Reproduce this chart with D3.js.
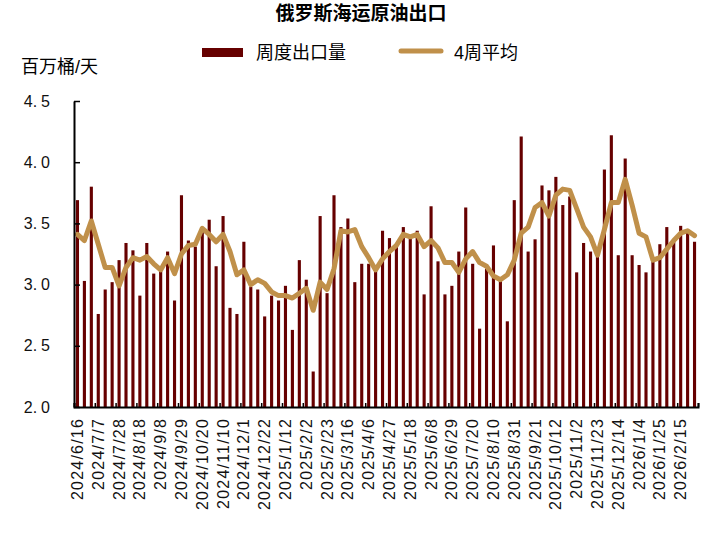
<!DOCTYPE html>
<html>
<head>
<meta charset="utf-8">
<script src="https://cdn.jsdelivr.net/npm/d3@7"></script>
<style>
  html, body { margin: 0; padding: 0; background: #fff; }
  svg { display: block; font-family: "Liberation Sans", Arial, "Noto Sans CJK SC", sans-serif; }
</style>
</head>
<body>
<svg id="chart" width="720" height="536"></svg>
<script>
const categories = [
  "2024/6/16","2024/6/23","2024/6/30","2024/7/7","2024/7/14","2024/7/21","2024/7/28","2024/8/4","2024/8/11","2024/8/18",
  "2024/8/25","2024/9/1","2024/9/8","2024/9/15","2024/9/22","2024/9/29","2024/10/6","2024/10/13","2024/10/20","2024/10/27",
  "2024/11/3","2024/11/10","2024/11/17","2024/11/24","2024/12/1","2024/12/8","2024/12/15","2024/12/22","2024/12/29",
  "2025/1/5","2025/1/12","2025/1/19","2025/1/26","2025/2/2","2025/2/9","2025/2/16","2025/2/23","2025/3/2","2025/3/9",
  "2025/3/16","2025/3/23","2025/3/30","2025/4/6","2025/4/13","2025/4/20","2025/4/27","2025/5/4","2025/5/11","2025/5/18",
  "2025/5/25","2025/6/1","2025/6/8","2025/6/15","2025/6/22","2025/6/29","2025/7/6","2025/7/13","2025/7/20","2025/7/27",
  "2025/8/3","2025/8/10","2025/8/17","2025/8/24","2025/8/31","2025/9/7","2025/9/14","2025/9/21","2025/9/28","2025/10/5",
  "2025/10/12","2025/10/19","2025/10/26","2025/11/2","2025/11/9","2025/11/16","2025/11/23","2025/11/30","2025/12/7","2025/12/14",
  "2025/12/21","2025/12/28","2026/1/4","2026/1/11","2026/1/18","2026/1/25","2026/2/1","2026/2/8","2026/2/15","2026/2/22","2026/3/1"
];

const weeklyExports = [
  3.69,3.03,3.80,2.76,2.96,3.02,3.20,3.34,3.28,2.91,
  3.34,3.09,3.11,3.27,2.87,3.73,3.36,3.31,3.46,3.53,
  3.15,3.56,2.81,2.76,3.35,2.98,2.96,2.74,2.91,2.87,
  2.99,2.63,3.20,3.04,2.29,3.56,2.93,3.73,3.47,3.54,
  3.02,3.17,3.17,3.12,3.44,3.38,3.31,3.47,3.39,3.44,
  2.92,3.64,3.19,2.92,2.99,3.27,3.63,3.17,2.64,3.13,
  3.32,3.04,2.70,3.69,4.21,3.27,3.37,3.81,3.77,3.88,
  3.65,3.72,3.10,3.34,3.27,3.23,3.94,4.22,3.24,4.03,
  3.24,3.16,3.10,3.22,3.33,3.47,3.37,3.48,3.44,3.35
];

const avg4w = [
  3.41,3.36,3.52,3.33,3.14,3.14,2.99,3.14,3.22,3.20,
  3.23,3.17,3.12,3.22,3.09,3.25,3.32,3.33,3.46,3.41,
  3.35,3.41,3.27,3.08,3.12,3.00,3.04,3.01,2.94,2.91,
  2.91,2.89,2.93,2.97,2.79,3.02,2.96,3.13,3.44,3.43,
  3.45,3.31,3.22,3.12,3.21,3.27,3.32,3.41,3.39,3.41,
  3.31,3.36,3.30,3.18,3.18,3.10,3.21,3.27,3.18,3.15,
  3.07,3.04,3.08,3.20,3.42,3.47,3.63,3.67,3.56,3.73,
  3.78,3.77,3.62,3.47,3.39,3.24,3.45,3.67,3.67,3.86,
  3.65,3.42,3.39,3.20,3.22,3.29,3.36,3.42,3.44,3.40
];

const tickLabels = [
  "2024/6/16","2024/7/7","2024/7/28","2024/8/18","2024/9/8","2024/9/29","2024/10/20","2024/11/10","2024/12/1","2024/12/22",
  "2025/1/12","2025/2/2","2025/2/23","2025/3/16","2025/4/6","2025/4/27","2025/5/18","2025/6/8","2025/6/29","2025/7/20",
  "2025/8/10","2025/8/31","2025/9/21","2025/10/12","2025/11/2","2025/11/23","2025/12/14","2026/1/4","2026/1/25","2026/2/15"
];

const yTicks = [2.0, 2.5, 3.0, 3.5, 4.0, 4.5];

const barColor = "#660000";
const lineColor = "#C0904A";

const svg = d3.select("#chart");
const plotLeft = 74, plotRight = 698, plotTop = 101, plotBottom = 407;

const x = d3.scaleBand().domain(categories).range([plotLeft, plotRight]).paddingInner(0.55).paddingOuter(0.275);
const xIdx = d3.scaleLinear().domain([0, categories.length]).range([plotLeft, plotRight]);
const y = d3.scaleLinear().domain([2.0, 4.5]).range([plotBottom, plotTop]);

// bars
svg.append("g").selectAll("rect").data(weeklyExports).join("rect")
  .attr("x", (d, i) => x(categories[i]))
  .attr("width", x.bandwidth())
  .attr("y", d => y(d))
  .attr("height", d => y(2.0) - y(d))
  .attr("fill", barColor);

// line
const line = d3.line()
  .x((d, i) => x(categories[i]) + x.bandwidth() / 2)
  .y(d => y(d));
svg.append("path").datum(avg4w)
  .attr("d", line)
  .attr("fill", "none")
  .attr("stroke", lineColor)
  .attr("stroke-width", 5)
  .attr("stroke-linejoin", "round")
  .attr("stroke-linecap", "round");

// y axis
const yAxis = svg.append("g").attr("transform", `translate(${plotLeft},0)`)
  .call(d3.axisLeft(y).tickValues(yTicks).tickSizeInner(-6).tickSizeOuter(0).tickPadding(24).tickFormat(d3.format(".1f")));
yAxis.select(".domain").attr("stroke", "#000").attr("stroke-width", 2);
yAxis.selectAll(".tick line").attr("stroke", "#000").attr("stroke-width", 1.5);
yAxis.selectAll(".tick text")
  .attr("font-size", 16).attr("fill", "#111")
  .each(function(d) {
    const s = d3.format(".1f")(d);
    const t = d3.select(this);
    t.text(null);
    t.append("tspan").text(s.slice(0, 2));
    t.append("tspan").attr("dx", 4).text(s.slice(2));
  });

// x axis tick marks at band boundaries
const boundaryTicks = d3.range(0, categories.length + 1, 3);
const xTickAxis = svg.append("g").attr("transform", `translate(0,${plotBottom})`)
  .call(d3.axisBottom(xIdx).tickValues(boundaryTicks).tickSizeInner(-4).tickSizeOuter(-4).tickFormat(""));
xTickAxis.select(".domain").attr("stroke", "#000").attr("stroke-width", 2);
xTickAxis.selectAll(".tick line").attr("stroke", "#000").attr("stroke-width", 1.5);

// x axis labels
const xLab = svg.append("g").attr("transform", `translate(0,${plotBottom})`)
  .call(d3.axisBottom(x).tickValues(tickLabels).tickSize(0).tickPadding(0));
xLab.select(".domain").remove();
xLab.selectAll(".tick text")
  .attr("font-size", 16)
  .attr("fill", "#111")
  .attr("letter-spacing", "1.2px")
  .attr("text-anchor", "end")
  .attr("transform", "rotate(-90)")
  .attr("x", -11)
  .attr("y", 0)
  .attr("dy", "0.35em");

// title
svg.append("text").attr("x", 361).attr("y", 20).attr("text-anchor", "middle")
  .attr("font-size", 19).attr("font-weight", "bold").attr("fill", "#000")
  .text("俄罗斯海运原油出口");

// unit
svg.append("text").attr("x", 21).attr("y", 73)
  .attr("font-size", 18).attr("fill", "#000").text("百万桶/天");

// legend
svg.append("rect").attr("x", 202).attr("y", 48).attr("width", 41).attr("height", 9).attr("fill", barColor);
svg.append("text").attr("x", 256).attr("y", 59).attr("font-size", 18).attr("fill", "#000").text("周度出口量");
svg.append("line").attr("x1", 401).attr("x2", 441).attr("y1", 51).attr("y2", 51)
  .attr("stroke", lineColor).attr("stroke-width", 5).attr("stroke-linecap", "round");
svg.append("text").attr("x", 454).attr("y", 59).attr("font-size", 18).attr("fill", "#000").text("4周平均");
</script>
</body>
</html>
